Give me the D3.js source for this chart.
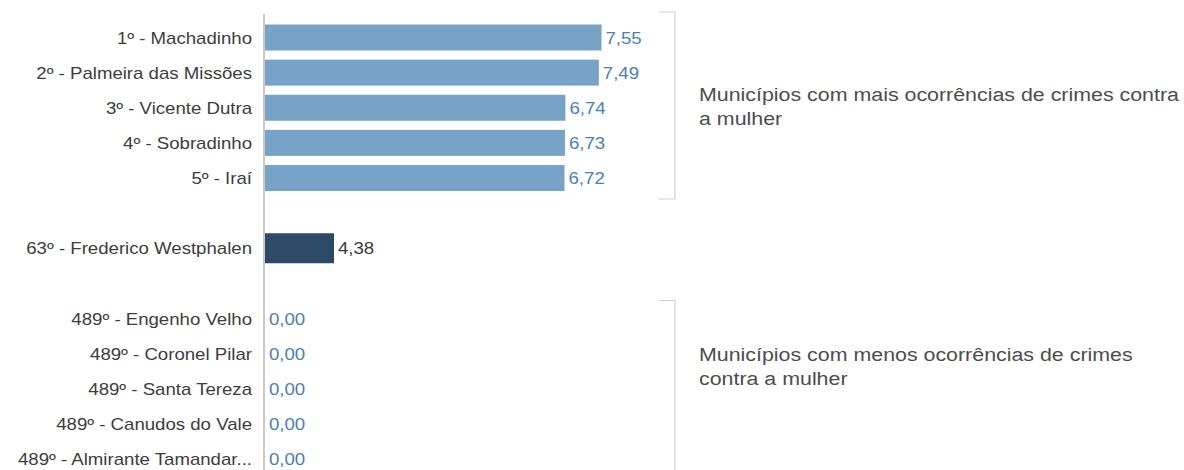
<!DOCTYPE html>
<html>
<head>
<meta charset="utf-8">
<script src="https://cdn.jsdelivr.net/npm/d3@7"></script>
<style>
  html, body { margin: 0; padding: 0; background: #fff; }
  svg { display: block; font-family: "Liberation Sans", Arial, sans-serif; }
</style>
</head>
<body>
<svg id="chart" width="1184" height="470"></svg>
<script>
// Top five municipalities (crimes against women, rate)
const topNames = ["1º - Machadinho", "2º - Palmeira das Missões", "3º - Vicente Dutra", "4º - Sobradinho", "5º - Iraí"];
const topValues = [7.55, 7.49, 6.74, 6.73, 6.72];

// Highlighted municipality
const focusNames = ["63º - Frederico Westphalen"];
const focusValues = [4.38];

// Bottom five municipalities
const bottomNames = ["489º - Engenho Velho", "489º - Coronel Pilar", "489º - Santa Tereza", "489º - Canudos do Vale", "489º - Almirante Tamandar..."];
const bottomValues = [0.00, 0.00, 0.00, 0.00, 0.00];

const groupLabels = [
  ["Municípios com mais ocorrências de crimes contra", "a mulher"],
  ["Municípios com menos ocorrências de crimes", "contra a mulher"]
];

const fmt = v => d3.format(".2f")(v).replace(".", ",");

const svg = d3.select("#chart");
const x0 = 265;
const stretch = 1.15;     // wide typeface look

// Adds a horizontally widened text at (x, y)
function wideText(parent, x, y, str, opts) {
  return parent.append("text")
    .attr("transform", `translate(${x},${y}) scale(${stretch},1)`)
    .attr("text-anchor", opts.anchor || "start")
    .attr("font-size", opts.size)
    .attr("fill", opts.fill)
    .text(str);
}

// Row slots, with empty spacer slots separating the three groups
const slots = [...topNames, "gap1", ...focusNames, "gap2", ...bottomNames];
const y = d3.scalePoint().domain(slots).range([37.5, 459]);

// Each group is drawn as its own small panel with its own value scale
const panels = [
  { names: topNames, values: topValues, x: d3.scaleLinear().domain([0, 7.55]).range([0, 336.5]),
    fill: "#77a3c8", labelColor: "#4b80b9", barH: 26 },
  { names: focusNames, values: focusValues, x: d3.scaleLinear().domain([0, 4.38]).range([0, 69]),
    fill: "#2d4a67", labelColor: "#3a3a3a", barH: 30 },
  { names: bottomNames, values: bottomValues, x: d3.scaleLinear().domain([0, 7.55]).range([0, 336.5]),
    fill: "#77a3c8", labelColor: "#4b80b9", barH: 26 }
];

panels.forEach(p => {
  const rows = p.names.map((n, i) => ({ name: n, value: p.values[i] }));
  const g = svg.append("g");

  g.selectAll("rect").data(rows).join("rect")
    .attr("x", x0)
    .attr("y", d => y(d.name) - p.barH / 2)
    .attr("width", d => p.x(d.value))
    .attr("height", p.barH)
    .attr("fill", p.fill);

  rows.forEach(d => {
    wideText(g, 252, y(d.name) + 6, d.name, { anchor: "end", size: 16.2, fill: "#3d3d3d" });
    wideText(g, x0 + p.x(d.value) + 4, y(d.name) + 6, fmt(d.value), { size: 16.2, fill: p.labelColor });
  });
});

// Vertical baseline
svg.append("line")
  .attr("x1", x0 - 1).attr("x2", x0 - 1)
  .attr("y1", 14).attr("y2", 470)
  .attr("stroke", "#c9c9c9").attr("stroke-width", 2);

// Group brackets
const brackets = [
  { top: y(topNames[0]) - 25.5, bottom: y(topNames[4]) + 21, closed: true },
  { top: y(bottomNames[0]) - 18, bottom: 480, closed: false }
];
brackets.forEach(b => {
  const path = d3.path();
  path.moveTo(659, b.top);
  path.lineTo(675, b.top);
  path.lineTo(675, b.bottom);
  if (b.closed) path.lineTo(659, b.bottom);
  svg.append("path").attr("d", path.toString())
    .attr("fill", "none").attr("stroke", "#d0d0d0").attr("stroke-width", 1.2);
});

// Group annotations
const labelBase = [101, 361];
groupLabels.forEach((lines, i) => {
  lines.forEach((line, j) => {
    wideText(svg, 699, labelBase[i] + j * 24.3, line, { size: 18.6, fill: "#4d4d4d" });
  });
});
</script>
</body>
</html>
